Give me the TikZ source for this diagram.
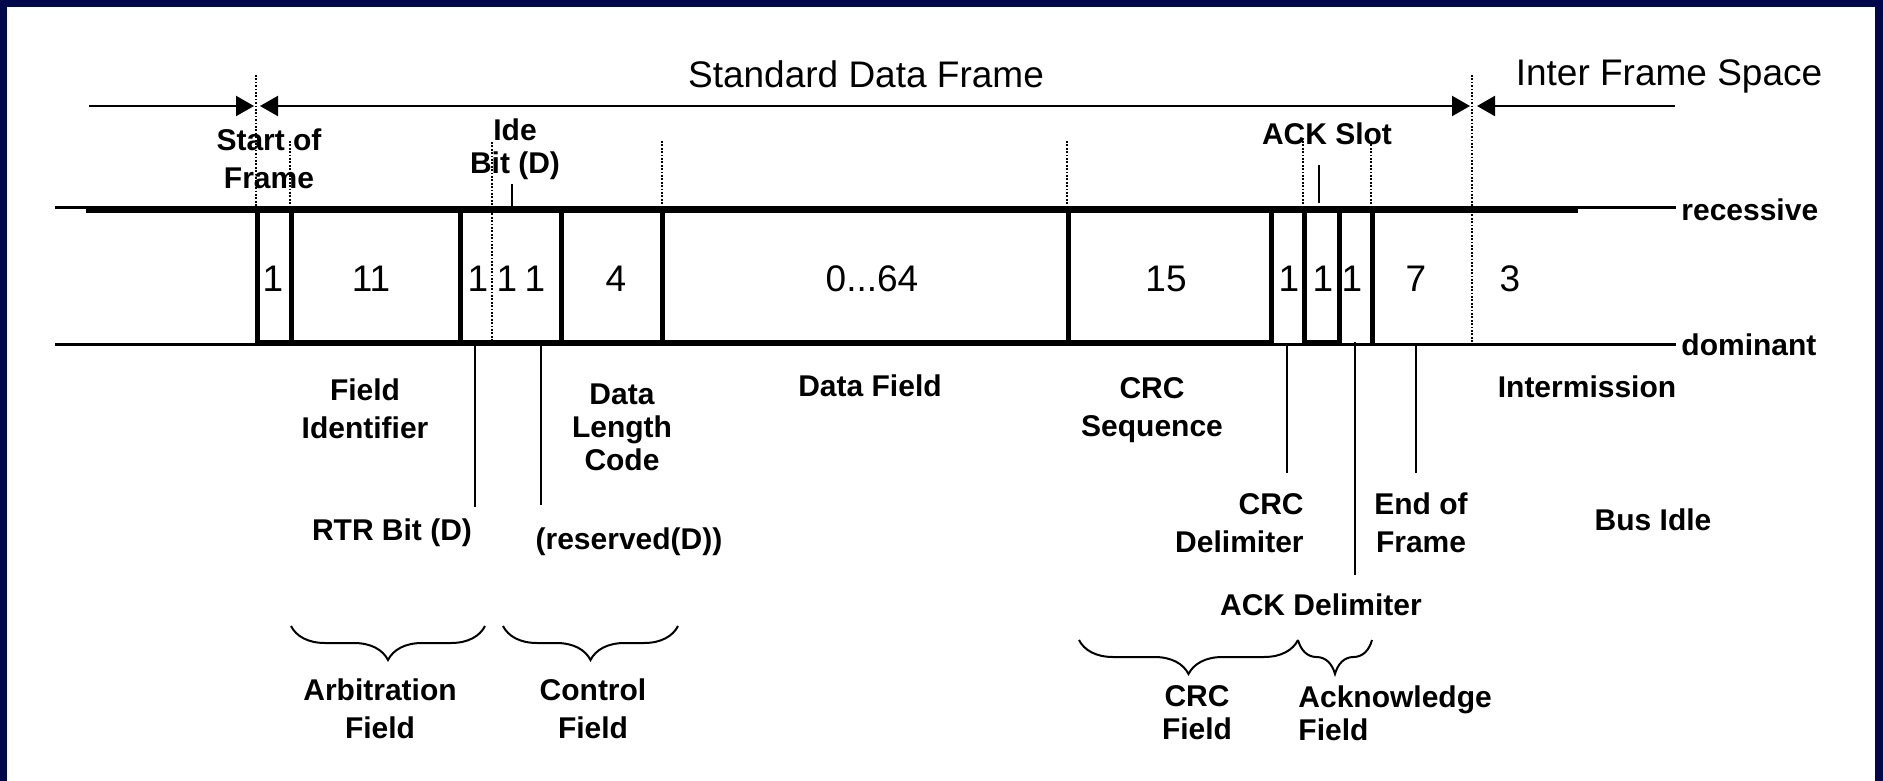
\documentclass[tikz,border=0pt]{standalone}
\usepackage{fontspec}
\setmainfont{Liberation Sans}
\usetikzlibrary{arrows.meta,decorations.pathreplacing}
\definecolor{framenavy}{RGB}{0,8,76}
\tikzset{
  level/.style={line width=1.1pt},
  wave/.style={line width=2.5pt, line cap=rect},
  dotline/.style={line width=0.85pt, dash pattern=on 0.85pt off 0.85pt},
  lead/.style={line width=1pt},
  dim/.style={line width=1.1pt, >={Triangle[length=9pt,width=10pt]}},
  lbl/.style={font=\bfseries\fontsize{15}{19}\selectfont, align=center, inner sep=0pt, anchor=north},
  lbltight/.style={lbl, font=\bfseries\fontsize{15}{16.5}\selectfont},
  bits/.style={font=\fontsize{18.5}{22}\selectfont, inner sep=0pt},
  head/.style={font=\fontsize{18.5}{22}\selectfont, inner sep=0pt, anchor=base},
  fieldbrace/.style={decorate, decoration={brace, mirror, amplitude=17pt}, line width=1pt}
}

\begin{document}
\begin{tikzpicture}[x=0.5pt, y=-0.5pt]
% frame
\fill[framenavy] (0,0) rectangle (1883,781);
\fill[white] (7,7) rectangle (1875,781);
\useasboundingbox (0,0) rectangle (1883,781);

% titles and dimension line
\node[head] (sdf) at (866,88) {Standard Data Frame};
\node[head] (ifs) at (1669,86) {Inter Frame Space};
\coordinate (dimL) at (89,106);
\coordinate (sofL) at (254,106);
\coordinate (sofR) at (260,106);
\coordinate (ifsL) at (1470,106);
\coordinate (ifsR) at (1477,106);
\coordinate (dimR) at (1675,106);
\draw[dim,->] (dimL) -- (sofL);
\draw[dim,<->] (sofR) -- (ifsL);
\draw[dim,<-] (ifsR) -- (dimR);

% bus levels
\node[lbl, anchor=base west] (rec) at (1681,220) {recessive};
\node[lbl, anchor=base west] (dom) at (1681,355) {dominant};
\coordinate (recL) at (55,207.5);
\coordinate (recR) at (1676,207.5);
\coordinate (domL) at (55,344.5);
\coordinate (domR) at (1676,344.5);
\draw[level] (recL) -- (recR);
\draw[level] (domL) -- (domR);

% signal
\draw[wave] (88,210) -- (1575,210);
\draw[wave] (257,342.5) -- (1271,342.5);
\draw[wave] (1304.5,342.5) -- (1339.5,342.5);
\foreach \x in {257,291,460.5,561.5,662,1068,1271,1304.5,1339.5,1372.5}
  \draw[wave] (\x,210) -- (\x,342.5);

% field borders
\foreach \x/\ya/\yb in {256/75/208, 290/141/208, 492/142/342, 662/141/208,
    1067/141/208, 1303/141/208, 1371/141/208, 1472/75/345}
  \draw[dotline] (\x,\ya) -- (\x,\yb);

% bit counts
\node[bits] (n1) at (273,278.5) {1};
\node[bits] (n2) at (371,278.5) {11};
\node[bits] (n3) at (478,278.5) {1};
\node[bits] (n4) at (507,278.5) {1};
\node[bits] (n5) at (535,278.5) {1};
\node[bits] (n6) at (616,278.5) {4};
\node[bits] (n7) at (872,278.5) {0...64};
\node[bits] (n8) at (1166,278.5) {15};
\node[bits] (n9) at (1289,278.5) {1};
\node[bits] (n10) at (1323,278.5) {1};
\node[bits] (n11) at (1352,278.5) {1};
\node[bits] (n12) at (1416,278.5) {7};
\node[bits] (n13) at (1510,278.5) {3};

% labels above
\node[lbl] (sof) at (269,128) {Start of\\Frame};
\node[lbltight] (ide) at (515,118) {Ide\\Bit (D)};
\node[lbl] (ackslot) at (1327,122) {ACK Slot};
\coordinate (ideTap) at (512,207);
\coordinate (slotTap) at (1319,203);
\draw[lead, shorten >=2pt] (ideTap) -- (ideTap |- ide.south);
\draw[lead, shorten >=10pt] (slotTap) -- (slotTap |- ackslot.south);

% labels below
\node[lbl] (ident) at (365,378) {Field\\Identifier};
\node[lbltight] (dlc) at (622,383) {Data\\Length\\Code};
\node[lbl] (data) at (870,374) {Data Field};
\node[lbl] (crcseq) at (1152,377) {CRC\\Sequence};
\node[lbl] (inter) at (1587,375) {Intermission};
\node[lbl] (rtr) at (392,518) {RTR Bit (D)};
\node[lbl] (resv) at (629,527) {(reserved(D))};
\node[lbl, align=right, anchor=north east] (crcdel) at (1304,493) {CRC\\Delimiter};
\node[lbl] (eof) at (1421,492) {End of\\Frame};
\node[lbl] (idle) at (1653,508) {Bus Idle};
\node[lbl] (ackdel) at (1321,593) {ACK Delimiter};

\coordinate (rtrTap) at (474.5,344.5);
\coordinate (resvTap) at (541,344.5);
\coordinate (crcTap) at (1287,344.5);
\coordinate (ackTap) at (1355,342);
\coordinate (eofTap) at (1415.5,344.5);
\draw[lead, shorten >=5.5pt] (rtrTap) -- (rtrTap |- rtr.north);
\draw[lead, shorten >=11pt] (resvTap) -- (resvTap |- resv.north);
\draw[lead, shorten >=10pt] (crcTap) -- (crcTap |- crcdel.north);
\draw[lead, shorten >=9pt] (ackTap) -- (ackTap |- ackdel.north);
\draw[lead, shorten >=9.5pt] (eofTap) -- (eofTap |- eof.north);

% frame fields
\coordinate (arbL) at (291,626);
\coordinate (arbR) at (485,626);
\coordinate (ctlL) at (503,626);
\coordinate (ctlR) at (678,626);
\coordinate (crcL) at (1079,640);
\coordinate (crcR) at (1298,640);
\coordinate (ackL) at (1298,640);
\coordinate (ackR) at (1372,640);
\draw[fieldbrace] (arbL) -- (arbR);
\draw[fieldbrace] (ctlL) -- (ctlR);
\draw[fieldbrace] (crcL) -- (crcR);
\draw[fieldbrace] (ackL) -- (ackR);
\node[lbl] (arb) at (380,678) {Arbitration\\Field};
\node[lbl] (ctl) at (593,678) {Control\\Field};
\node[lbltight] (crcf) at (1197,685) {CRC\\Field};
\node[lbltight, align=left, anchor=north west] (ackf) at (1298,685) {Acknowledge\\Field};
\end{tikzpicture}
\end{document}
